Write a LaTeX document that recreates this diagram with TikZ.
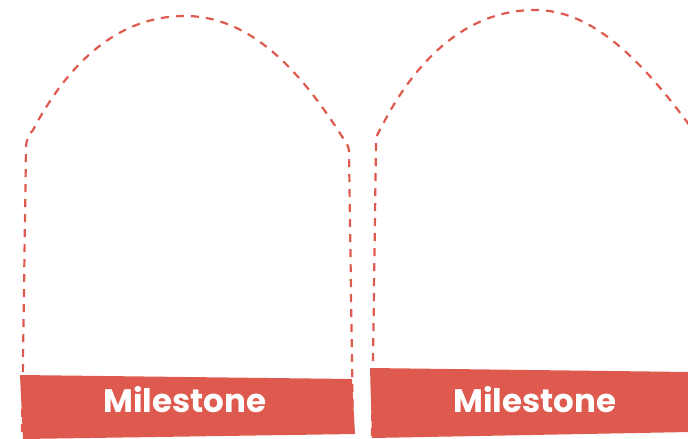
\documentclass[tikz,border=0pt]{standalone}
\usepackage{fontspec}
\setmainfont{Poppins}
\usepackage{tikz}

\definecolor{milered}{HTML}{DE5A4E}

\begin{document}
\begin{tikzpicture}[x=1pt, y=-1pt,
    outline/.style={draw=milered, line width=2.2pt, dash pattern=on 8pt off 7pt},
    tag/.style={font=\fontsize{32.5}{38}\selectfont\bfseries, text=white, inner sep=0pt}]
  \useasboundingbox (0,0) rectangle (688,439);
  % banners
  \fill[milered] (20,375) -- (352,379) -- (355,434) -- (23,439) -- cycle;
  \fill[milered] (370,368) -- (690,372) -- (690,432) -- (372,438) -- cycle;
  % dashed outlines
  \draw[outline] (22,432) -- (26,148) .. controls (26,141) and (28,136) .. (33,130)
    .. controls (70,60) and (120,16) .. (185,16)
    .. controls (250,16) and (300,70) .. (343,138)
    .. controls (347,144) and (349,147) .. (349,152) -- (353,432);
  \draw[outline] (372,436) -- (376,142) .. controls (376,136) and (378,133) .. (381,128)
    .. controls (410,70) and (460,10) .. (535,10)
    .. controls (590,10) and (640,55) .. (700,140);
  \node[tag] (lefttag) at (185,400) {Milestone};
  \node[tag] (righttag) at (535,400) {Milestone};
\end{tikzpicture}
\end{document}
